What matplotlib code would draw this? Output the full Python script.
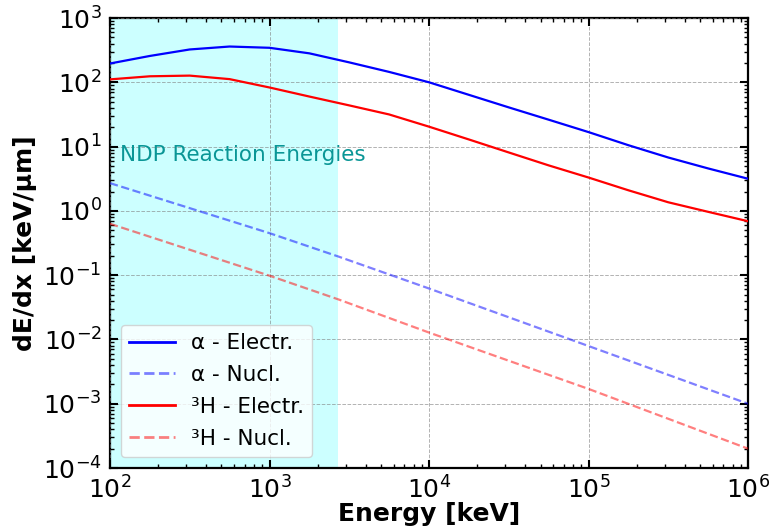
import matplotlib
matplotlib.use("Agg")
import matplotlib.pyplot as plt

energy_keV = [100, 178, 316, 562, 1000, 1778, 3162, 5623, 10000, 17783,
              31623, 56234, 100000, 177828, 316228, 562341, 1000000]
alpha_electr = [196, 257, 324, 360, 344, 282, 204, 145, 100, 63.8,
                40.7, 26.2, 16.8, 10.5, 6.76, 4.57, 3.16]
triton_electr = [111, 124, 127, 112, 83, 60, 43.7, 31.6, 20.4, 12.9,
                 8.1, 5.1, 3.3, 2.09, 1.36, 0.966, 0.69]

energy_nucl_keV = [100, 1000, 2700, 10000, 100000, 1000000]
alpha_nucl = [2.7, 0.45, 0.195, 0.062, 0.0079, 0.001]
triton_nucl = [0.63, 0.098, 0.042, 0.0128, 0.0017, 0.0002]

ndp_range = [100, 2700]
labels = ["α - Electr.", "α - Nucl.", "³H - Electr.", "³H - Nucl."]

fig = plt.figure(figsize=(7.73, 5.31), dpi=100)
ax = fig.add_axes([0.1423, 0.1186, 0.8254, 0.8475])

ax.axvspan(ndp_range[0], ndp_range[1], color="cyan", alpha=0.2, lw=0, zorder=0)
ax.plot(energy_keV, alpha_electr, color="blue", lw=1.6, label=labels[0], zorder=3)
ax.plot(energy_nucl_keV, alpha_nucl, color="blue", lw=1.6, ls="--", alpha=0.5,
        label=labels[1], zorder=3)
ax.plot(energy_keV, triton_electr, color="red", lw=1.6, label=labels[2], zorder=3)
ax.plot(energy_nucl_keV, triton_nucl, color="red", lw=1.6, ls="--", alpha=0.5,
        label=labels[3], zorder=3)

ax.set_xscale("log")
ax.set_yscale("log")
ax.set_xlim(1e2, 1e6)
ax.set_ylim(1e-4, 1e3)

ax.grid(True, which="major", ls="--", color="grey", lw=0.7, alpha=0.6, zorder=1)
ax.set_axisbelow(False)

ax.tick_params(which="both", direction="in", top=True, right=True)
ax.tick_params(which="major", length=6, width=1.5, labelsize=18, pad=6)
ax.tick_params(which="minor", length=3, width=1.0,
               labelbottom=False, labelleft=False)
for s in ax.spines.values():
    s.set_linewidth(1.6)

ax.set_xlabel("Energy [keV]", fontsize=18, fontweight="bold", labelpad=-1)
ax.set_ylabel("dE/dx [keV/μm]", fontsize=18, fontweight="bold", labelpad=4)

ax.text(0.0157, 0.696, "NDP Reaction Energies", transform=ax.transAxes,
        fontsize=15.5, color="#0a9696", va="center", ha="left")

leg = ax.legend(loc="lower left", fontsize=15.5, handlelength=2.1, framealpha=0.8,
                borderaxespad=0.5, labelspacing=0.55, handletextpad=0.75)
for line in leg.get_lines():
    line.set_linewidth(2.0)

fig.savefig("out.png", dpi=100)
